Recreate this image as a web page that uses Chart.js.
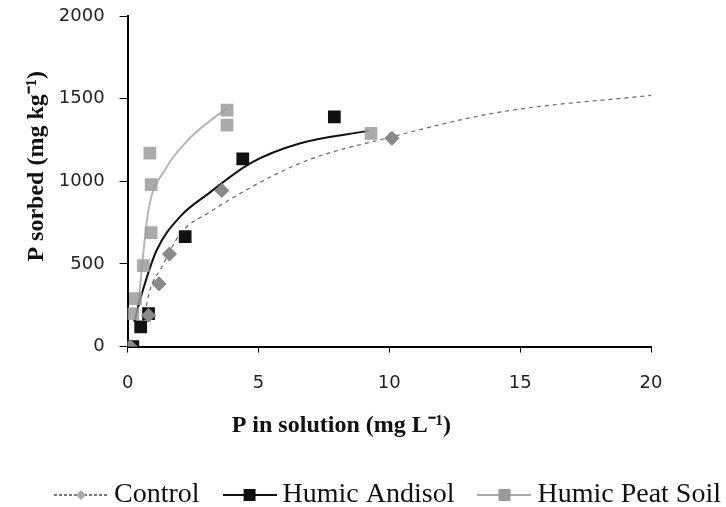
<!DOCTYPE html>
<html>
<head>
<meta charset="utf-8">
<script src="https://cdn.jsdelivr.net/npm/chart.js@4.4.1/dist/chart.umd.min.js"></script>
<style>
  body { margin: 0; background: #fff; }
</style>
</head>
<body>
<canvas id="isotherm" width="726" height="507"></canvas>
<script>
// measured points (P in solution, P sorbed)
const controlX = [0.1, 0.8, 1.2, 1.6, 3.6, 10.1];
const controlY = [0, 190, 380, 560, 945, 1260];
const andisolX = [0.2, 0.5, 0.8, 2.2, 4.4, 7.9];
const andisolY = [0, 120, 200, 665, 1135, 1390];
const peatX = [0.1, 0.2, 0.3, 0.6, 0.9, 0.9, 0.85, 3.8, 3.8, 9.3];
const peatY = [0, 200, 290, 490, 690, 980, 1170, 1340, 1430, 1290];

// fitted curves
const controlFitX = [0.6, 0.85, 1.3, 2.0, 3.15, 6.6, 10, 14.2, 20];
const controlFitY = [150, 340, 480, 680, 815, 1110, 1265, 1418, 1520];
const andisolFitX = [0.25, 0.6, 1.1, 2.0, 3.1, 4.7, 6.6, 9.2];
const andisolFitY = [150, 350, 580, 785, 927, 1110, 1230, 1305];
const peatFitX = [0.3, 0.46, 0.57, 0.8, 1.42, 2.3, 3.33, 3.8];
const peatFitY = [150, 340, 520, 830, 1067, 1248, 1388, 1440];

const xTicks = [0, 5, 10, 15, 20];
const yTicks = [0, 500, 1000, 1500, 2000];

function pts(xs, ys) {
  return xs.map((x, i) => ({ x: x, y: ys[i] }));
}

// legend swatches: line with marker in the middle
function swatch(color, dash, style, fill) {
  const c = document.createElement("canvas");
  c.width = 54;
  c.height = 16;
  const g = c.getContext("2d");
  g.strokeStyle = color;
  g.lineWidth = 2;
  g.setLineDash(dash);
  g.beginPath();
  g.moveTo(0, 8);
  g.lineTo(54, 8);
  g.stroke();
  g.setLineDash([]);
  g.fillStyle = fill;
  g.beginPath();
  if (style === "diamond") {
    g.moveTo(27, 3); g.lineTo(32, 8); g.lineTo(27, 13); g.lineTo(22, 8);
  } else {
    g.rect(21, 2, 12, 12);
  }
  g.closePath();
  g.fill();
  return c;
}

// move the legend to where it sits in the figure
const legendShift = {
  id: "legendShift",
  afterLayout(chart) {
    const lg = chart.legend;
    lg.left = 31;
    lg.right = 780;
    lg.top = 450;
    lg.bottom = 507;
  },
};

// titles sit off-centre in the figure, nbsp padding nudges them
const nb = (n) => "\u00A0".repeat(n);

new Chart(document.getElementById("isotherm"), {
  type: "scatter",
  data: {
    datasets: [
      {
        label: "Control",
        data: pts(controlX, controlY),
        pointStyle: "rectRot",
        pointRadius: 7,
        backgroundColor: "#8a8a8a",
        borderColor: "#7a7a7a",
        borderWidth: 1,
        legendIcon: swatch("#777", [3, 2], "diamond", "#aaa"),
      },
      {
        label: "Humic Andisol",
        data: pts(andisolX, andisolY),
        pointStyle: "rect",
        pointRadius: 9,
        backgroundColor: "#111",
        borderColor: "#111",
        borderWidth: 0,
        legendIcon: swatch("#111", [], "rect", "#111"),
      },
      {
        label: "Humic Peat Soil",
        data: pts(peatX, peatY),
        pointStyle: "rect",
        pointRadius: 9,
        backgroundColor: "rgba(155,155,155,0.85)",
        borderColor: "rgba(155,155,155,0.85)",
        borderWidth: 0,
        legendIcon: swatch("#aaa", [], "rect", "#999"),
      },
      {
        label: "fit-control",
        data: pts(controlFitX, controlFitY),
        showLine: true,
        cubicInterpolationMode: "monotone",
        pointRadius: 0,
        borderColor: "#666",
        borderWidth: 1.2,
        borderDash: [4, 4],
      },
      {
        label: "fit-andisol",
        data: pts(andisolFitX, andisolFitY),
        showLine: true,
        cubicInterpolationMode: "monotone",
        pointRadius: 0,
        borderColor: "#111",
        borderWidth: 2,
      },
      {
        label: "fit-peat",
        data: pts(peatFitX, peatFitY),
        showLine: true,
        cubicInterpolationMode: "monotone",
        pointRadius: 0,
        borderColor: "#b5b5b5",
        borderWidth: 2,
      },
    ],
  },
  options: {
    responsive: false,
    animation: false,
    layout: { padding: { left: 10, right: 75, top: 16, bottom: 32 } },
    scales: {
      x: {
        min: 0,
        max: 20,
        afterBuildTicks: (axis) => {
          axis.ticks = xTicks.map((v) => ({ value: v }));
        },
        border: { color: "#000", width: 2 },
        grid: { drawOnChartArea: false, color: "#000", tickLength: 6 },
        ticks: {
          color: "#222",
          font: { family: "DejaVu Sans", size: 18 },
          padding: 20,
          callback: (v) => String(v),
        },
        title: {
          display: true,
          text: "P in solution (mg L\u207B\u00B9)" + nb(16),
          color: "#111",
          font: { family: "Liberation Serif", size: 24, weight: "bold" },
          padding: { top: -3, bottom: 5 },
        },
      },
      y: {
        min: 0,
        max: 2000,
        afterBuildTicks: (axis) => {
          axis.ticks = yTicks.map((v) => ({ value: v }));
        },
        afterFit: (axis) => {
          axis.paddingTop = 0;
        },
        border: { color: "#000", width: 2 },
        grid: { drawOnChartArea: false, color: "#000", tickLength: 8 },
        ticks: {
          color: "#222",
          font: { family: "DejaVu Sans", size: 18 },
          padding: 15,
          callback: (v) => String(v),
        },
        title: {
          display: true,
          text: nb(5) + "P sorbed (mg kg\u207B\u00B9)",
          color: "#111",
          font: { family: "Liberation Serif", size: 24, weight: "bold" },
          padding: { top: 12, bottom: -7 },
        },
      },
    },
    plugins: {
      tooltip: { enabled: false },
      legend: {
        position: "bottom",
        align: "start",
        maxHeight: 30,
        labels: {
          color: "#111",
          font: { family: "Liberation Serif", size: 28 },
          padding: 31,
          usePointStyle: true,
          pointStyleWidth: 38,
          filter: (item) => !item.text.startsWith("fit-"),
          generateLabels: (chart) =>
            chart.data.datasets.map((ds, i) => ({
              text: ds.label,
              pointStyle: ds.legendIcon,
              fontColor: "#111",
              lineWidth: 0,
              strokeStyle: "transparent",
              datasetIndex: i,
            })),
        },
      },
    },
  },
  plugins: [legendShift],
});
</script>
</body>
</html>
